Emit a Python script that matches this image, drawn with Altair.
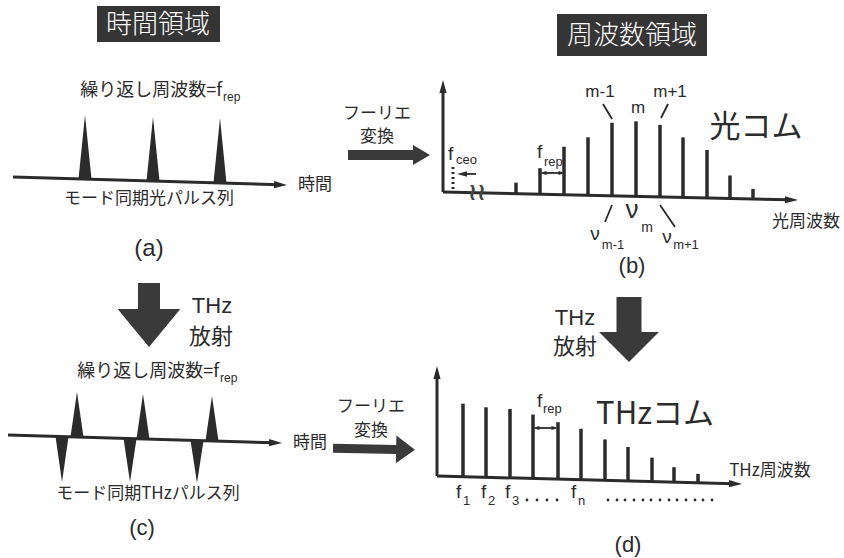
import altair as alt
import pandas as pd
import math

W, H = 844, 558
INK = "#2b2b2b"
JP = "Noto Sans CJK JP"
LAT = "Liberation Sans"

# ---- pulse trains (time domain) ----
opt_pulse_t = [85, 153, 220]          # optical pulse centres
opt_pulse_peak = [115, 117, 118]      # pulse tips
thz_pos_t = [77, 143, 212]            # THz positive lobe centres
thz_pos_peak = [392, 394, 396]
thz_neg_t = [62, 130, 197]            # THz negative lobe centres
thz_neg_peak = [482, 482, 483]
pulse_half_width = 6.5

# ---- comb lines (frequency domain) ----
opt_mode_x = [516, 540, 564, 588, 612, 636, 660, 683, 707, 730, 753]
opt_mode_amp = [11, 26, 48, 58, 73, 75, 72, 60, 48, 23, 10]
thz_mode_x = [463, 486, 510, 533, 558, 581, 605, 628, 652, 674, 698]
thz_mode_amp = [73, 70, 69, 64, 57, 51, 41, 34, 24, 15, 9]

# axis lines: start point -> arrow tip
axis_lines = {
    "a": ((13, 177), (287, 185)),
    "c": ((8, 435), (282, 443)),
    "b": ((443, 192), (798, 200)),
    "d": ((437, 476), (742, 484)),
    "b_up": ((443, 192), (443, 80)),
    "d_up": ((437, 476), (437, 366)),
}

XS = alt.Scale(domain=[0, W], nice=False, zero=False)
YS = alt.Scale(domain=[0, H], nice=False, zero=False, reverse=True)


def X(f="x"):
    return alt.X(f"{f}:Q", scale=XS, axis=None)


def Y(f="y"):
    return alt.Y(f"{f}:Q", scale=YS, axis=None)


def axis_y(key, x):
    (x0, y0), (x1, y1) = axis_lines[key]
    return y0 + (x - x0) * (y1 - y0) / (x1 - x0)


layers = []

# title boxes
boxes = pd.DataFrame({"x": [97, 557], "x2": [220, 707], "y": [6, 14], "y2": [42, 56]})
layers.append(alt.Chart(boxes).mark_rect(color="#353535").encode(
    x=X(), x2="x2:Q", y=Y(), y2="y2:Q"))

# axis lines and arrow heads
line_rows, head_rows = [], []
HEAD_LEN = 13
for key, ((x0, y0), (x1, y1)) in axis_lines.items():
    d = math.hypot(x1 - x0, y1 - y0)
    ux, uy = (x1 - x0) / d, (y1 - y0) / d
    line_rows.append({"x": x0, "y": y0, "x2": x1 - ux * 8, "y2": y1 - uy * 8})
    ang = math.degrees(math.atan2(uy, ux)) % 360
    head_rows.append({"x": x1 - ux * HEAD_LEN / 2, "y": y1 - uy * HEAD_LEN / 2, "angle": ang})
layers.append(alt.Chart(pd.DataFrame(line_rows)).mark_rule(color=INK, strokeWidth=3).encode(
    x=X(), y=Y(), x2="x2:Q", y2="y2:Q"))
TRI = "M1,0 L-1,-0.55 L-1,0.55 Z"
layers.append(alt.Chart(pd.DataFrame(head_rows)).mark_point(
    shape=TRI, filled=True, color=INK, opacity=1, size=HEAD_LEN ** 2, strokeWidth=0).encode(
    x=X(), y=Y(), angle=alt.Angle("angle:Q", scale=None)))

# pulse trains as filled triangles
tri_rows = []
for prefix, axis_key, centres, tips in (
    ("a", "a", opt_pulse_t, opt_pulse_peak),
    ("cp", "c", thz_pos_t, thz_pos_peak),
    ("cn", "c", thz_neg_t, thz_neg_peak),
):
    for i, (t, p) in enumerate(zip(centres, tips)):
        for dx, top in ((-pulse_half_width, False), (0, True), (pulse_half_width, False)):
            b = axis_y(axis_key, t + dx)
            tri_rows.append({"id": f"{prefix}{i}", "x": t + dx, "y": p if top else b, "y2": b})
layers.append(alt.Chart(pd.DataFrame(tri_rows)).mark_area(color=INK, opacity=1).encode(
    x=X(), y=Y(), y2="y2:Q", detail="id:N"))

# comb lines
comb_rows = []
for x, a in zip(opt_mode_x, opt_mode_amp):
    b = axis_y("b", x)
    comb_rows.append({"x": x, "y": b - a, "y2": b})
for x, a in zip(thz_mode_x, thz_mode_amp):
    b = axis_y("d", x)
    comb_rows.append({"x": x, "y": b - a, "y2": b})
layers.append(alt.Chart(pd.DataFrame(comb_rows)).mark_rule(color=INK, strokeWidth=3.5).encode(
    x=X(), y=Y(), y2="y2:Q"))


# block arrows (Fourier transform / THz emission)
def block_path(body, head, start):
    return (f"M-1,{-body} L{start},{-body} L{start},{-head} L1,0 "
            f"L{start},{head} L{start},{body} L-1,{body} Z")


block_arrows = [
    # centre x, centre y, length, body half, head half, head start, angle
    (389, 155, 82, 0.122, 0.244, 0.585, 0),
    (374, 449, 82, 0.11, 0.34, 0.54, 1),
    (149, 315, 64, 0.344, 0.98, -0.19, 90),
    (629, 329.5, 65, 0.385, 0.923, 0.077, 90),
]
for cx, cy, L, bh, hh, hs, ang in block_arrows:
    layers.append(alt.Chart(pd.DataFrame({"x": [cx], "y": [cy]})).mark_point(
        shape=block_path(bh, hh, hs), size=L * L, filled=True, color="#3a3a3a",
        opacity=1, strokeWidth=0, angle=ang).encode(x=X(), y=Y()))

# thin leader lines and small arrows
leaders = pd.DataFrame([
    {"x": 603, "y": 104, "x2": 612, "y2": 119},
    {"x": 668, "y": 104, "x2": 661, "y2": 118},
    {"x": 612, "y": 205, "x2": 605, "y2": 222},
    {"x": 660, "y": 205, "x2": 675, "y2": 227},
    {"x": 543, "y": 173, "x2": 562, "y2": 173},
    {"x": 536, "y": 428, "x2": 555, "y2": 428},
    {"x": 476, "y": 174, "x2": 462, "y2": 174},
])
layers.append(alt.Chart(leaders).mark_rule(color=INK, strokeWidth=1.8).encode(
    x=X(), y=Y(), x2="x2:Q", y2="y2:Q"))
small_heads = pd.DataFrame([
    {"x": 543, "y": 173, "angle": 180, "s": 49},
    {"x": 562, "y": 173, "angle": 0, "s": 49},
    {"x": 536, "y": 428, "angle": 180, "s": 49},
    {"x": 555, "y": 428, "angle": 0, "s": 49},
    {"x": 462, "y": 174, "angle": 180, "s": 100},
])
layers.append(alt.Chart(small_heads).mark_point(
    shape=TRI, filled=True, color=INK, opacity=1, strokeWidth=0).encode(
    x=X(), y=Y(), angle=alt.Angle("angle:Q", scale=None), size=alt.Size("s:Q", scale=None)))

# f_ceo offset marker (dotted)
layers.append(alt.Chart(pd.DataFrame({"x": [453], "y": [167], "y2": [191]})).mark_rule(
    color=INK, strokeWidth=3, strokeDash=[2, 3]).encode(x=X(), y=Y(), y2="y2:Q"))

# dotted continuation under the THz comb
dot_x = [527, 537, 547, 557, 608, 617, 625, 634, 643, 651, 660, 669, 677, 686, 695, 703, 712]
layers.append(alt.Chart(pd.DataFrame({"x": dot_x, "y": [500] * len(dot_x)})).mark_circle(
    color=INK, size=8, opacity=1).encode(x=X(), y=Y()))


def text_layer(rows, size, font=JP, align="center", baseline="middle", color=INK, weight="normal"):
    df = pd.DataFrame(rows, columns=["x", "y", "t"])
    return alt.Chart(df).mark_text(
        font=font, fontSize=size, align=align, baseline=baseline, color=color,
        fontWeight=weight).encode(x=X(), y=Y(), text="t:N")


layers += [
    text_layer([(158, 25, "時間領域"), (632, 36, "周波数領域")], 26, color="white", weight=300),
    text_layer([
        (149, 199, "モード同期光パルス列"), (148, 494, "モード同期THzパルス列"),
        (315, 185, "時間"), (310, 443, "時間"),
        (377, 114, "フーリエ"), (377, 137, "変換"),
        (371, 407, "フーリエ"), (371, 431, "変換"),
        (806, 222, "光周波数"), (770, 471, "THz周波数"),
    ], 17),
    text_layer([(211, 337, "放射"), (575, 347, "放射")], 22),
    text_layer([(212, 306, "THz"), (575, 318, "THz")], 22, font=LAT),
    text_layer([(222, 96, "繰り返し周波数=f"), (219, 377, "繰り返し周波数=f")], 18,
               align="right", baseline="alphabetic"),
    text_layer([(223, 101, "rep"), (220, 382, "rep")], 12, font=LAT,
               align="left", baseline="alphabetic"),
    text_layer([(756, 128, "光コム")], 31),
    text_layer([(655, 415, "THzコム")], 31),
    text_layer([(149, 249, "(a)")], 24, font=LAT),
    text_layer([(632, 266, "(b)"), (142, 528, "(c)"), (628, 545, "(d)")], 22, font=LAT),
    text_layer([(600, 92, "m-1"), (638, 108, "m"), (670, 92, "m+1")], 17, font=LAT),
    text_layer([(632, 210, "ν")], 26, font=LAT),
    text_layer([(595, 234, "ν"), (667, 237, "ν")], 19, font=LAT),
    text_layer([(647, 228, "m")], 14, font=LAT),
    text_layer([(613, 245, "m-1"), (686, 245, "m+1")], 13, font=LAT),
    text_layer([(448, 160, "f"), (537, 158, "f"), (537, 407, "f"),
                (456, 498, "f"), (481, 498, "f"), (505, 498, "f"), (571, 498, "f")],
               19, font=LAT, align="left", baseline="alphabetic"),
    text_layer([(456, 164, "ceo"), (544, 166, "rep"), (543, 413, "rep"),
                (463, 505, "1"), (488, 505, "2"), (512, 505, "3"), (578, 505, "n")],
               13, font=LAT, align="left", baseline="alphabetic"),
    text_layer([(477, 193, "≀≀")], 24, font="DejaVu Sans", color="#444444", weight="bold"),
]

chart = alt.layer(*layers).properties(
    width=W, height=H, padding=0, autosize="none", background="white"
).configure_view(stroke=None)

chart.save("out.html", embed_options={"renderer": "svg", "actions": False})
